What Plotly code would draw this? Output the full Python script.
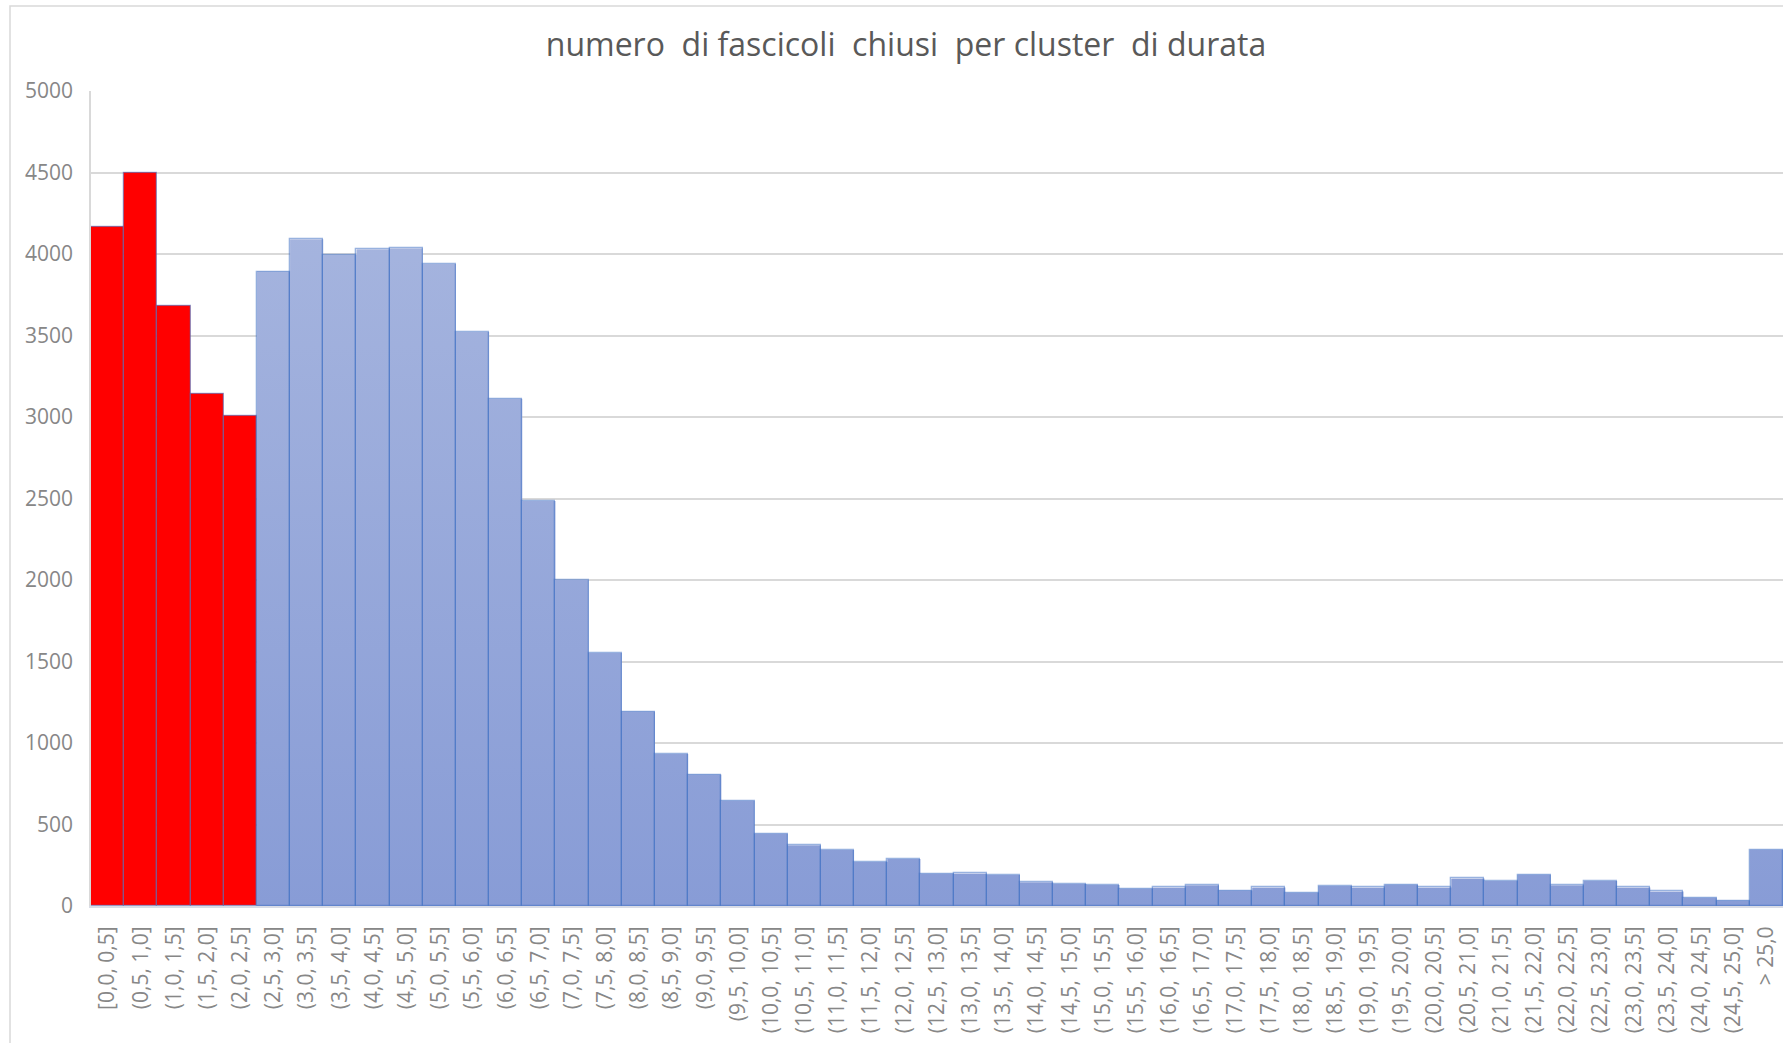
import plotly.graph_objects as go

categories = [
    "[0,0, 0,5]", "(0,5, 1,0]", "(1,0, 1,5]", "(1,5, 2,0]", "(2,0, 2,5]",
    "(2,5, 3,0]", "(3,0, 3,5]", "(3,5, 4,0]", "(4,0, 4,5]", "(4,5, 5,0]",
    "(5,0, 5,5]", "(5,5, 6,0]", "(6,0, 6,5]", "(6,5, 7,0]", "(7,0, 7,5]",
    "(7,5, 8,0]", "(8,0, 8,5]", "(8,5, 9,0]", "(9,0, 9,5]", "(9,5, 10,0]",
    "(10,0, 10,5]", "(10,5, 11,0]", "(11,0, 11,5]", "(11,5, 12,0]", "(12,0, 12,5]",
    "(12,5, 13,0]", "(13,0, 13,5]", "(13,5, 14,0]", "(14,0, 14,5]", "(14,5, 15,0]",
    "(15,0, 15,5]", "(15,5, 16,0]", "(16,0, 16,5]", "(16,5, 17,0]", "(17,0, 17,5]",
    "(17,5, 18,0]", "(18,0, 18,5]", "(18,5, 19,0]", "(19,0, 19,5]", "(19,5, 20,0]",
    "(20,0, 20,5]", "(20,5, 21,0]", "(21,0, 21,5]", "(21,5, 22,0]", "(22,0, 22,5]",
    "(22,5, 23,0]", "(23,0, 23,5]", "(23,5, 24,0]", "(24,0, 24,5]", "(24,5, 25,0]",
    "> 25,0",
]

counts = [
    4165, 4495, 3680, 3141, 3008,
    3892, 4090, 3996, 4029, 4035,
    3939, 3521, 3112, 2485, 2000,
    1552, 1193, 932, 806, 646,
    444, 372, 344, 270, 288,
    198, 200, 190, 145, 135,
    129, 106, 114, 128, 95,
    114, 81, 122, 114, 130,
    114, 169, 153, 192, 128,
    153, 114, 89, 50, 33,
    345,
]

highlight_count = 5  # first bins shown in red

y_ticks = [0, 500, 1000, 1500, 2000, 2500, 3000, 3500, 4000, 4500, 5000]

title_text = "numero  di fascicoli  chiusi  per cluster  di durata"

idx = list(range(len(categories)))

# Gradient-filled stepped area for the blue bins (built from the data)
blue_idx = idx[highlight_count:]
xs = [blue_idx[0] - 0.5]
ys = [0]
for i in blue_idx:
    xs += [i - 0.5, i + 0.5]
    ys += [counts[i], counts[i]]
xs.append(blue_idx[-1] + 0.5)
ys.append(0)

fig = go.Figure()

fig.add_trace(go.Scatter(
    x=xs, y=ys, mode="lines", fill="toself",
    line=dict(width=0, color="rgba(0,0,0,0)"),
    fillcolor="#97A9DA",
    fillgradient=dict(type="vertical",
                      colorscale=[[0, "#889CD6"], [1, "#ABB9E0"]],
                      start=0, stop=5000),
    hoverinfo="skip", showlegend=False,
    xaxis="x", yaxis="y",
))

bar_colors = ["#FF0000"] * highlight_count + ["rgba(0,0,0,0)"] * (len(counts) - highlight_count)

fig.add_trace(go.Bar(
    x=idx, y=counts, width=1,
    marker=dict(color=bar_colors,
                line=dict(color="rgba(68,114,196,0.55)", width=1.3)),
    showlegend=False,
    xaxis="x2", yaxis="y2",
))

axis_font = dict(family="Open Sans", size=21, color="#878787")

FIG_W, FIG_H = 1783, 1043

fig.update_layout(
    width=FIG_W, height=FIG_H,
    margin=dict(l=91, r=0, t=91, b=137, autoexpand=False),
    paper_bgcolor="white", plot_bgcolor="white",
    bargap=0,
    title=dict(text=title_text, x=906 / FIG_W, xanchor="center", xref="container",
               y=1 - 45 / FIG_H, yanchor="middle",
               font=dict(family="Open Sans", size=32, color="#595959")),
    xaxis=dict(
        range=[-0.5, len(categories) - 0.5],
        tickmode="array", tickvals=idx, ticktext=categories,
        tickangle=-90, tickfont=axis_font,
        showgrid=False, zeroline=False,
        showline=True, linecolor="#D9DCE6", linewidth=2,
        ticks="", ticklabelstandoff=10,
    ),
    yaxis=dict(
        range=[0, 5000], tickmode="array", tickvals=y_ticks,
        tickformat="d", tickfont=axis_font,
        showgrid=True, gridcolor="#D9D9D9", gridwidth=1.5,
        zeroline=False, showline=True, linecolor="#D9D9D9", linewidth=1.5,
        ticks="", ticklabelstandoff=12,
    ),
    xaxis2=dict(range=[-0.5, len(categories) - 0.5], overlaying="x",
                visible=False, anchor="y2"),
    yaxis2=dict(range=[0, 5000], overlaying="y", visible=False, anchor="x2"),
    shapes=[dict(type="rect", xref="paper", yref="paper",
                 x0=(10 - 91) / 1692, x1=1.02,
                 y0=-0.3, y1=(906 - 6) / 815,
                 line=dict(color="#D9D9D9", width=1.5),
                 fillcolor="rgba(0,0,0,0)", layer="below")],
)

fig.write_html(
    "out.html",
    config={"displayModeBar": False},
    post_script="document.body.style.margin='0';document.body.style.overflow='hidden';",
)
